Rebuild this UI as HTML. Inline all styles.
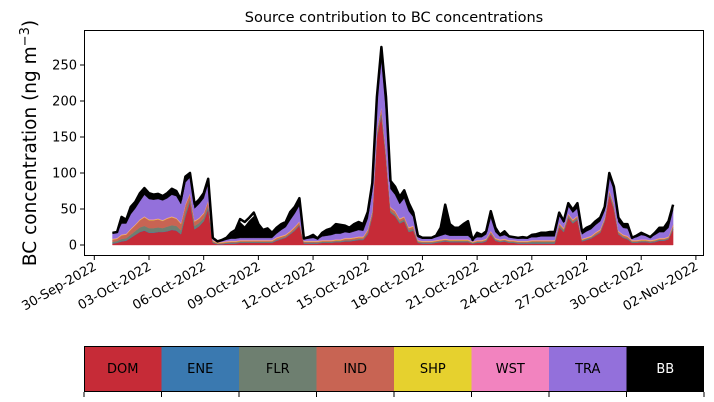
<!DOCTYPE html>
<html><head><meta charset="utf-8"><style>
body{margin:0;background:#fff;}
svg{display:block;font-family:"DejaVu Sans","Liberation Sans",sans-serif;}
</style></head><body>
<svg id="c" width="714" height="402" viewBox="0 0 714 402">
<text x="394" y="22" font-size="14.5" text-anchor="middle">Source contribution to BC concentrations</text>
<text transform="translate(36,143) rotate(-90)" font-size="18.5" text-anchor="middle">BC concentration (ng m<tspan dy="-7" font-size="13">−3</tspan><tspan dy="7">)</tspan></text>
<g id="areas"></g>
<rect x="84.5" y="30.5" width="619" height="225" fill="none" stroke="#000" stroke-width="1"/>
<g id="axes"></g>
<g id="cbar"></g>
</svg>
<script>
const TOTAL=[17,18,39,35,53,60,72,79,72,70,71,68,72,78,75,63,95,100,57,63,72,92,10,5,7,10,17,21,36,32,38,45,29,21,23,17,24,29,32,46,53,65,9,11,14,9,17,21,23,29,28,27,24,29,32,29,46,86,206,275,206,89,81,67,76,58,45,13,10,10,10,13,24,56,29,24,24,29,33,7,17,14,19,47,24,14,19,12,11,10,11,10,14,15,17,17,18,18,45,33,58,49,58,19,24,27,33,38,53,100,81,38,29,29,10,13,17,14,11,17,24,24,33,56];
const DOM=[2,3,5,6,10,14,18,20,17,17,18,18,19,21,20,15,40,60,22,26,33,50,3,1,1,2,2,2,3,3,3,3,3,3,3,3,6,8,10,15,20,27,2,2,2,2,3,3,3,4,4,5,5,6,7,7,15,40,150,180,120,45,40,30,33,18,20,3,2,2,2,3,4,5,4,4,4,4,4,2,3,3,5,15,6,4,5,3,3,2,2,2,2,2,2,2,2,2,25,18,38,30,35,5,7,9,13,17,33,70,50,15,10,8,3,3,4,4,3,4,6,6,8,22];
const FLR=[2,2,3,3,4,5,6,6,6,6,6,5,6,6,6,5,5,4,4,4,4,4,1,0.5,0.5,0.5,1,1,1,1,1,1,1,1,1,1,1,1,1,1,1,1,1,1,1,1,1,1,1,1,1,1,1,1,1,1,2,2,3,4,3,2,2,2,2,2,2,1,1,1,1,1,1,1,1,1,1,1,1,0.5,1,1,1,1,1,1,1,1,1,1,1,1,2,2,2,2,2,2,2,2,2,2,2,1,1,1,1,1,1,2,2,1,1,1,1,1,1,1,1,1,1,1,1,2];
const IND=[3,3,5,5,7,8,10,12,11,11,11,10,11,11,10,9,10,6,6,6,6,6,1,0.5,1,1,1,1,1,1,1,1,1,1,1,1,2,2,2,2,3,3,1,1,1,1,1,1,1,1,1,2,2,2,2,2,3,4,5,6,5,4,4,3,3,3,3,1,1,1,1,1,1,1,1,1,1,1,1,0.5,1,1,1,2,1,1,1,1,1,1,1,1,1,1,1,1,1,1,2,2,2,2,2,1,1,1,2,2,2,3,3,2,2,2,1,1,1,1,1,1,1,1,1,3];
const ENE=new Array(124).fill(0.5);
const SHP=new Array(124).fill(0.7);
const WST=new Array(124).fill(0.7);
const TRA=[7,7,15,14,20,22,25,30,28,27,27,27,27,30,30,26,30,22,17,19,20,24,2,1,1,2,3,3,3,3,3,3,3,3,3,3,5,8,10,15,18,22,2,3,4,2,5,6,7,8,8,8,7,8,9,8,15,28,40,65,55,25,22,20,25,22,12,4,3,3,3,4,5,6,5,5,5,5,5,2,4,4,6,18,8,4,5,4,3,3,3,3,4,4,5,5,5,5,10,7,10,9,10,6,8,9,10,11,10,17,20,12,9,10,3,4,6,5,4,6,8,8,12,20];
const BB=[2,2,9,5,10,9,11,9,8,7,7,6,7,8,7,6,8,6,6,6,7,6,1,0,2,3,6,10,22,16,24,30,17,11,13,7,8,8,7,11,9,10,1,2,4,1,5,7,8,13,12,9,7,10,11,8,9,10,6,18,21,11,11,10,11,11,6,2,1,1,1,2,11,41,16,11,11,16,20,0,6,3,4,9,6,2,5,1,1,1,2,1,3,4,5,5,6,6,4,2,4,4,7,4,5,5,5,5,5,6,4,6,5,6,1,2,3,1,0,3,6,6,9,7];
const SERIES=[["DOM",DOM,"#c62b37"],["ENE",ENE,"#3a79b0"],["FLR",FLR,"#6e7f70"],["IND",IND,"#c86453"],["SHP",SHP,"#e6d12e"],["WST",WST,"#f283bf"],["TRA",TRA,"#9370db"],["BB",BB,"#000000"]];
const YTICKS=[0,50,100,150,200,250];
const XTICKS=["30-Sep-2022","03-Oct-2022","06-Oct-2022","09-Oct-2022","12-Oct-2022","15-Oct-2022","18-Oct-2022","21-Oct-2022","24-Oct-2022","27-Oct-2022","30-Oct-2022","02-Nov-2022"];
const NS="http://www.w3.org/2000/svg";
const xDay=d=>94.3+d*18.23;
const xIdx=i=>xDay(1+i*0.25);
const y=v=>245-v*0.72;
function mk(t,a,p){const e=document.createElementNS(NS,t);for(const k in a)e.setAttribute(k,a[k]);p.appendChild(e);return e;}
const areas=document.getElementById('areas');
let base=new Array(124).fill(0);
SERIES.forEach(([name,vals,col])=>{
  const top=base.map((b,i)=>b+vals[i]);
  let d="M"+top.map((v,i)=>xIdx(i).toFixed(1)+","+y(v).toFixed(1)).join("L");
  for(let i=123;i>=0;i--)d+="L"+xIdx(i).toFixed(1)+","+y(base[i]).toFixed(1);
  const p=mk('path',{d:d+"Z",fill:col,stroke:col,'stroke-width':0.4},areas);
  
  
  base=top;
});
const tl=mk('path',{d:"M"+TOTAL.map((v,i)=>xIdx(i).toFixed(1)+","+y(v).toFixed(1)).join("L"),fill:"none",stroke:"#000","stroke-width":2.5,"stroke-linejoin":"round"},areas);


const ax=document.getElementById('axes');
YTICKS.forEach(v=>{
  const l=mk('line',{x1:80,x2:84,y1:y(v),y2:y(v),stroke:"#000"},ax);
  
  
  const t=mk('text',{x:77,y:y(v)+4.5,"font-size":13,"text-anchor":"end"},ax);
  t.textContent=v;
  
  
});
XTICKS.forEach((s,i)=>{
  const x=xDay(i*3);
  const l=mk('line',{x1:x,x2:x,y1:256,y2:260,stroke:"#000"},ax);
  
  
  const t=mk('text',{transform:`translate(${x+3},${269}) rotate(-30)`,"font-size":13,"text-anchor":"end"},ax);
  t.textContent=s;
  
  
});
const cb=document.getElementById('cbar');
const w=620/8;
SERIES.forEach(([name,vals,col],i)=>{
  const r=mk('rect',{x:84+i*w,y:346,width:w,height:46,fill:col},cb);
  
  
  const t=mk('text',{x:84+i*w+w/2,y:373,"font-size":13,"text-anchor":"middle",fill:name==="BB"?"#fff":"#000"},cb);
  t.textContent=name;
  
  
});
for(let i=0;i<=8;i++){
  const l=mk('line',{x1:84+i*w,x2:84+i*w,y1:392,y2:397,stroke:"#000"},cb);
  
  
}
const fr=mk('rect',{x:84.5,y:346.5,width:619,height:45,fill:"none",stroke:"#000"},cb);


</script>
</body></html>
